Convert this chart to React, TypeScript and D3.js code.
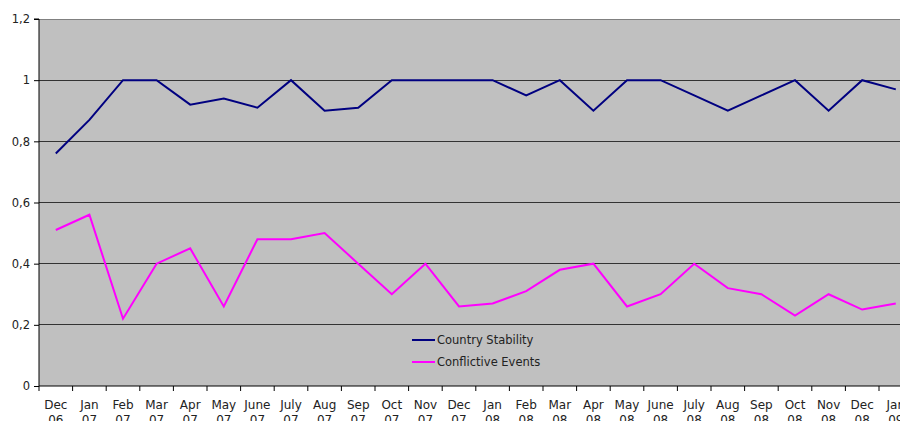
import * as d3 from "d3";
import React, { useRef, useEffect } from "react";

const months = [
  "Dec 06", "Jan 07", "Feb 07", "Mar 07", "Apr 07", "May 07", "June 07", "July 07", "Aug 07",
  "Sep 07", "Oct 07", "Nov 07", "Dec 07", "Jan 08", "Feb 08", "Mar 08", "Apr 08", "May 08",
  "June 08", "July 08", "Aug 08", "Sep 08", "Oct 08", "Nov 08", "Dec 08", "Jan 09",
];
const countryStability = [
  0.76, 0.87, 1, 1, 0.92, 0.94, 0.91, 1, 0.9, 0.91, 1, 1, 1, 1, 0.95, 1, 0.9, 1, 1, 0.95, 0.9,
  0.95, 1, 0.9, 1, 0.97,
];
const conflictiveEvents = [
  0.51, 0.56, 0.22, 0.4, 0.45, 0.26, 0.48, 0.48, 0.5, 0.4, 0.3, 0.4, 0.26, 0.27, 0.31, 0.38,
  0.4, 0.26, 0.3, 0.4, 0.32, 0.3, 0.23, 0.3, 0.25, 0.27,
];
const yTicks = [0, 0.2, 0.4, 0.6, 0.8, 1, 1.2];
const seriesNames = ["Country Stability", "Conflictive Events"];
const seriesColors = ["#000080", "#ff00ff"];

const width = 900;
const height = 421;
const font = "'DejaVu Sans', sans-serif";

function App() {
  const ref = useRef<SVGSVGElement>(null);

  useEffect(() => {
    const svg = d3.select(ref.current);
    svg.selectAll("*").remove();

    const left = 39;
    const top = 19;
    const bottom = 386;
    const step = 33.6;
    const plotRight = left + step * months.length;

    const x = d3.scaleBand().domain(months).range([left, plotRight]);
    const y = d3.scaleLinear().domain([0, 1.2]).range([bottom, top]);

    svg
      .append("rect")
      .attr("x", left)
      .attr("y", top)
      .attr("width", plotRight - left)
      .attr("height", bottom - top)
      .attr("fill", "#c0c0c0");

    // gridlines
    svg
      .append("g")
      .selectAll("line")
      .data(yTicks.filter((t) => t > 0))
      .enter()
      .append("line")
      .attr("x1", left)
      .attr("x2", plotRight)
      .attr("y1", (d) => y(d))
      .attr("y2", (d) => y(d))
      .attr("stroke", (d) => (d === 1.2 ? "#808080" : "#333"))
      .attr("stroke-width", 1)
      .attr("shape-rendering", "crispEdges");

    // y axis
    const yAxis = d3
      .axisLeft(y)
      .tickValues(yTicks)
      .tickSize(5)
      .tickPadding(4)
      .tickFormat((d) => d3.format("")(+(+d).toFixed(1)).replace(".", ","));
    const ya = svg.append("g").attr("transform", `translate(${left},0)`).call(yAxis);
    ya.select(".domain").attr("stroke", "#000").attr("d", `M-5,${top}H0V${bottom}`);
    ya.selectAll("line").attr("stroke", "#000");
    ya.selectAll("text").attr("font-family", font).attr("font-size", 11.5).attr("fill", "#222");

    // x axis
    const xa = svg.append("g");
    xa.append("line")
      .attr("x1", left)
      .attr("x2", plotRight)
      .attr("y1", bottom)
      .attr("y2", bottom)
      .attr("stroke", "#000");
    xa.selectAll("line.tick")
      .data(d3.range(months.length + 1))
      .enter()
      .append("line")
      .attr("class", "tick")
      .attr("x1", (i) => left + i * x.step())
      .attr("x2", (i) => left + i * x.step())
      .attr("y1", bottom)
      .attr("y2", bottom + 5)
      .attr("stroke", "#000");
    const labels = xa
      .selectAll("text")
      .data(months)
      .enter()
      .append("text")
      .attr("x", (d) => x(d)! + x.bandwidth() / 2)
      .attr("y", 409)
      .attr("text-anchor", "middle")
      .attr("font-family", font)
      .attr("font-size", 12)
      .attr("fill", "#222");
    labels
      .append("tspan")
      .attr("x", (d) => x(d)! + x.bandwidth() / 2)
      .text((d) => d.split(" ")[0]);
    labels
      .append("tspan")
      .attr("x", (d) => x(d)! + x.bandwidth() / 2)
      .attr("dy", 15)
      .text((d) => d.split(" ")[1]);

    // lines
    const line = d3
      .line<number>()
      .x((_, i) => x(months[i])! + x.bandwidth() / 2)
      .y((d) => y(d));
    [countryStability, conflictiveEvents].forEach((s, i) => {
      svg
        .append("path")
        .datum(s)
        .attr("d", line)
        .attr("fill", "none")
        .attr("stroke", seriesColors[i])
        .attr("stroke-width", 2);
    });

    // legend
    const lg = svg.append("g").attr("transform", "translate(412,340)");
    seriesNames.forEach((n, i) => {
      lg.append("line")
        .attr("x1", 0)
        .attr("x2", 23)
        .attr("y1", i * 22)
        .attr("y2", i * 22)
        .attr("stroke", seriesColors[i])
        .attr("stroke-width", 2);
      lg.append("text")
        .attr("x", 25)
        .attr("y", i * 22 + 4)
        .attr("font-family", font)
        .attr("font-size", 11.5)
        .attr("fill", "#222")
        .text(n);
    });
  }, []);

  return <svg ref={ref} width={width} height={height} style={{ position: "absolute", left: 0, top: 0 }} />;
}

export default App;
